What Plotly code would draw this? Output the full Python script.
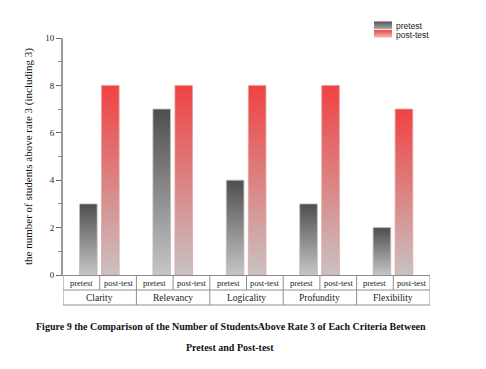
import plotly.graph_objects as go

categories = ["Clarity", "Relevancy", "Logicality", "Profundity", "Flexibility"]
series_names = ["pretest", "post-test"]
pretest = [3, 7, 4, 3, 2]
posttest = [8, 8, 8, 8, 7]
y_ticks = [0, 2, 4, 6, 8, 10]

series_values = [pretest, posttest]
offsets = [-0.155, 0.145]
bar_w = 0.24
scales = [
    [[0, "#c6c6c6"], [1, "#4e4e4e"]],
    [[0, "#c8c2c2"], [1, "#f04242"]],
]
legend_scales = [
    [[0, "#a8a8a8"], [1, "#565656"]],
    [[0, "#f0b8b8"], [1, "#ee4444"]],
]
edge = ["#bdbdbd", "#e9a0a0"]

SERIF = "Liberation Serif, Times New Roman, serif"
SANS = "Liberation Sans, Arial, sans-serif"

W, H = 478, 361          # page has an 8px body margin
OFF = 8
L, R, T, B = 55, 56, 10, 94
plot_w = W - L - R
plot_h = H - T - B


def px(page_x):
    return (page_x - OFF - L) / plot_w


def py(page_y):
    return (H - B - (page_y - OFF)) / plot_h


fig = go.Figure()
for s, (name, vals) in enumerate(zip(series_names, series_values)):
    for i, v in enumerate(vals):
        xc = i + offsets[s]
        x0, x1 = xc - bar_w / 2, xc + bar_w / 2
        fig.add_trace(go.Scatter(
            x=[x0, x1, x1, x0, x0], y=[0, 0, v, v, 0],
            mode="lines", fill="toself",
            line=dict(color=edge[s], width=0.8),
            fillgradient=dict(type="vertical", colorscale=scales[s], start=0, stop=v),
            name=name, showlegend=False, hoverinfo="skip",
        ))

# legend swatches on an inset axis
for s, name in enumerate(series_names):
    y0 = 1 - s
    fig.add_trace(go.Scatter(
        x=[0, 1, 1, 0, 0], y=[y0 + 0.05, y0 + 0.05, y0 + 0.95, y0 + 0.95, y0 + 0.05],
        xaxis="x2", yaxis="y2", mode="lines", fill="toself",
        line=dict(width=0, color="rgba(0,0,0,0)"),
        fillgradient=dict(type="vertical", colorscale=legend_scales[s],
                          start=y0 + 0.05, stop=y0 + 0.95),
        showlegend=False, hoverinfo="skip",
    ))

fig.update_layout(
    xaxis=dict(domain=[0, 1], range=[-0.5, 4.5], showticklabels=False, showgrid=False,
               zeroline=False, showline=True, linecolor="#8c8c8c", linewidth=1,
               ticks="", automargin=False),
    yaxis=dict(domain=[0, py(38)], range=[0, 10], tickvals=y_ticks, showgrid=False,
               zeroline=False, showline=True, linecolor="#9a9a9a", linewidth=2,
               automargin=False, ticks="outside", ticklen=5, tickcolor="#6a6a6a",
               tickwidth=1,
               minor=dict(ticks="outside", ticklen=3, dtick=1, tickcolor="#8a8a8a"),
               tickfont=dict(family=SERIF, size=9, color="#222"),
               title=dict(text="the number of students above rate 3 (including 3)",
                          font=dict(family=SERIF, size=11, color="#111"), standoff=10)),
    xaxis2=dict(domain=[px(374), px(392)], range=[0, 1], visible=False, anchor="y2"),
    yaxis2=dict(domain=[py(38), py(21)], range=[0, 2], visible=False, anchor="x2"),
)

# table under the axis
row1, row2 = py(290), py(305)
lc = "#8f8f8f"
shapes = []
for y in (row1, row2):
    shapes.append(dict(type="line", xref="x", yref="paper", x0=-0.5, x1=4.5, y0=y, y1=y,
                       line=dict(color=lc, width=1)))
for k in range(len(categories) + 1):
    xb = k - 0.5
    shapes.append(dict(type="line", xref="x", yref="paper", x0=xb, x1=xb, y0=0, y1=row2,
                       line=dict(color=lc, width=1)))
for i in range(len(categories)):
    shapes.append(dict(type="line", xref="x", yref="paper", x0=i, x1=i, y0=0, y1=row1,
                       line=dict(color=lc, width=1)))

annotations = []
for i, c in enumerate(categories):
    for s, n in enumerate(series_names):
        annotations.append(dict(x=i - 0.25 + 0.5 * s, y=py(282.5), xref="x", yref="paper",
                                xanchor="center", yanchor="middle",
                                text=n, showarrow=False,
                                font=dict(family=SERIF, size=8.5, color="#222")))
    annotations.append(dict(x=i, y=py(297.5), xref="x", yref="paper",
                            xanchor="center", yanchor="middle",
                            text=c, showarrow=False,
                            font=dict(family=SERIF, size=9.5, color="#222")))

for s, n in enumerate(series_names):
    annotations.append(dict(x=px(394), y=py(25.5 + 9 * s), xref="paper", yref="paper",
                            xanchor="left", yanchor="middle", text=n, showarrow=False,
                            font=dict(family=SANS, size=8.5, color="#222")))

annotations.append(dict(x=px(231), y=py(326), xref="paper", yref="paper", showarrow=False,
                        xanchor="center", yanchor="middle",
                        text="<b>Figure 9 the Comparison of the Number of StudentsAbove Rate 3 of Each Criteria Between</b>",
                        font=dict(family=SERIF, size=10, color="#111")))
annotations.append(dict(x=px(230), y=py(348), xref="paper", yref="paper", showarrow=False,
                        xanchor="center", yanchor="middle",
                        text="<b>Pretest and Post-test</b>",
                        font=dict(family=SERIF, size=10, color="#111")))

fig.update_layout(
    width=W, height=H,
    margin=dict(l=L, r=R, t=T, b=B, autoexpand=False),
    plot_bgcolor="white", paper_bgcolor="white",
    shapes=shapes, annotations=annotations, showlegend=False,
)

fig.write_html("out.html")
